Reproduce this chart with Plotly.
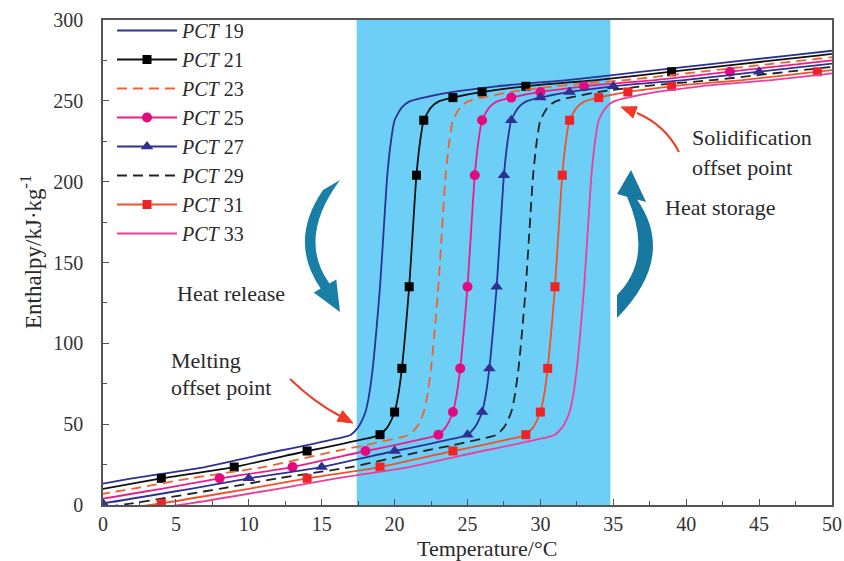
import plotly.graph_objects as go

# ---------------- data ----------------
# Enthalpy levels (kJ/kg) shared by every curve; each series gives the
# temperature (deg C) at which it reaches that level.
ENTHALPY = [-6, 1, 8.5, 10, 16.5, 23.5, 33.4, 37, 39, 41, 42, 43.5, 48, 52, 57.5,
            68, 84.5, 108, 135, 170, 204, 225, 238, 246, 249.5, 252, 255.5, 259,
            263, 268, 273, 278, 281]

T_PCT19 = [-14, -8, -3, -2, 2, 7, 12, 14, 15, 16, 16.5, 17, 17.5, 17.75, 18, 18.25,
           18.5, 18.75, 19, 19.25, 19.5, 19.75, 20, 20.5, 21, 22, 24, 27, 32, 37, 42, 47, 50]
T_PCT21 = [-12, -6, -1, 0, 4, 9, 14, 16, 17, 18, 18.5, 19, 19.5, 19.75, 20, 20.25,
           20.5, 20.75, 21, 21.25, 21.5, 21.75, 22, 22.5, 23, 24, 26, 29, 34, 39, 44, 49, 52]
T_PCT23 = [-10, -4, 1, 2, 6, 11, 16, 18, 19, 20, 20.5, 21, 21.5, 21.75, 22, 22.25,
           22.5, 22.75, 23, 23.25, 23.5, 23.75, 24, 24.5, 25, 26, 28, 31, 36, 41, 46, 51, 54]
T_PCT25 = [-8, -2, 3, 4, 8, 13, 18, 20, 21, 22, 22.5, 23, 23.5, 23.75, 24, 24.25,
           24.5, 24.75, 25, 25.25, 25.5, 25.75, 26, 26.5, 27, 28, 30, 33, 38, 43, 48, 53, 56]
T_PCT27 = [-6, 0, 5, 6, 10, 15, 20, 22, 23, 24, 24.5, 25, 25.5, 25.75, 26, 26.25,
           26.5, 26.75, 27, 27.25, 27.5, 27.75, 28, 28.5, 29, 30, 32, 35, 40, 45, 50, 55, 58]
T_PCT29 = [-4, 2, 7, 8, 12, 17, 22, 24, 25, 26, 26.5, 27, 27.5, 27.75, 28, 28.25,
           28.5, 28.75, 29, 29.25, 29.5, 29.75, 30, 30.5, 31, 32, 34, 37, 42, 47, 52, 57, 60]
T_PCT31 = [-2, 4, 9, 10, 14, 19, 24, 26, 27, 28, 28.5, 29, 29.5, 29.75, 30, 30.25,
           30.5, 30.75, 31, 31.25, 31.5, 31.75, 32, 32.5, 33, 34, 36, 39, 44, 49, 54, 59, 62]
T_PCT33 = [0, 6, 11, 12, 16, 21, 26, 28, 29, 30, 30.5, 31, 31.5, 31.75, 32, 32.25,
           32.5, 32.75, 33, 33.25, 33.5, 33.75, 34, 34.5, 35, 36, 38, 41, 46, 51, 56, 61, 64]

# indices of the points that carry a marker
MARKER_IDX = [1, 4, 5, 6, 11, 14, 16, 18, 20, 22, 25, 26, 27, 29]

SERIES_LABELS = ["19", "21", "23", "25", "27", "29", "31", "33"]
BAND_RANGE = [17.4, 34.8]          # phase-change temperature window
X_TICKS = [0, 5, 10, 15, 20, 25, 30, 35, 40, 45, 50]
Y_TICKS = [0, 50, 100, 150, 200, 250, 300]

# ---------------- styling ----------------
STYLES = [
    dict(color="#2D3192", dash="solid", symbol=None,          mcolor=None,      size=0),
    dict(color="#111111", dash="solid", symbol="square",      mcolor="#000000", size=9),
    dict(color="#F2622E", dash="10px,6px", symbol=None,       mcolor=None,      size=0),
    dict(color="#EC1C8C", dash="solid", symbol="circle",      mcolor="#E5097F", size=10),
    dict(color="#2E3192", dash="solid", symbol="triangle-up", mcolor="#2E3192", size=11),
    dict(color="#222222", dash="10px,6px", symbol=None,       mcolor=None,      size=0),
    dict(color="#F0522A", dash="solid", symbol="square",      mcolor="#EE2424", size=9),
    dict(color="#EE3E9C", dash="solid", symbol=None,          mcolor=None,      size=0),
]
TEMPS = [T_PCT19, T_PCT21, T_PCT23, T_PCT25, T_PCT27, T_PCT29, T_PCT31, T_PCT33]

FONT = "Liberation Serif, Times New Roman, serif"
W, H = 844, 561
ML, MR, MT, MB = 103, 12, 20, 56
PW, PH = W - ML - MR, H - MT - MB


def px(x):
    return (x - ML) / PW


def py(y):
    return (H - MB - y) / PH


def path(cmds, close=True):
    parts = []
    for c, pts in cmds:
        parts.append(c + " " + " ".join(f"{px(a):.4f},{py(b):.4f}" for a, b in pts))
    return " ".join(parts) + (" Z" if close else "")


fig = go.Figure()

for lab, T, st in zip(SERIES_LABELS, TEMPS, STYLES):
    fig.add_trace(go.Scatter(
        x=T, y=ENTHALPY, mode="lines",
        line=dict(color=st["color"], width=1.8, dash=st["dash"], shape="spline", smoothing=0.6),
        showlegend=False, legendgroup=lab, hoverinfo="skip"))
    if st["symbol"]:
        fig.add_trace(go.Scatter(
            x=[T[i] for i in MARKER_IDX], y=[ENTHALPY[i] for i in MARKER_IDX],
            mode="markers",
            marker=dict(symbol=st["symbol"], size=st["size"], color=st["mcolor"]),
            showlegend=False, legendgroup=lab))

for lab, st in zip(SERIES_LABELS, STYLES):
    fig.add_trace(go.Scatter(
        x=[None], y=[None],
        mode="lines+markers" if st["symbol"] else "lines",
        name=f"<i>PCT</i> {lab}", legendgroup=lab,
        line=dict(color=st["color"], width=1.8, dash=st["dash"]),
        marker=dict(symbol=st["symbol"] or "circle", size=st["size"] or 1,
                    color=st["mcolor"] or st["color"])))

shapes = [
    dict(type="rect", xref="x", yref="paper", x0=BAND_RANGE[0], x1=BAND_RANGE[1],
         y0=0, y1=1, fillcolor="#6DCFF6", line=dict(width=0), layer="below"),
    # heat release arrow (left, pointing down)
    dict(type="path", xref="paper", yref="paper", layer="above",
         path=path([("M", [(323, 190)]), ("Q", [(288, 241), (320.6, 288.5)]),
                    ("L", [(313.7, 292.5)]), ("L", [(340, 312)]), ("L", [(336.3, 279.5)]),
                    ("L", [(329.4, 283.5)]), ("Q", [(297, 238), (340, 180)])]),
         fillcolor="#1A7FA6", line=dict(width=0)),
    # heat storage arrow (right, pointing up)
    dict(type="path", xref="paper", yref="paper", layer="above",
         path=path([("M", [(631, 170)]), ("L", [(646, 202)]), ("L", [(637, 199.6)]),
                    ("Q", [(677, 257), (617, 318)]), ("L", [(617, 295)]),
                    ("Q", [(654, 258), (627, 196.8)]), ("L", [(617, 194)])]),
         fillcolor="#17799F", line=dict(width=0)),
    # red pointer arrows
    dict(type="path", xref="paper", yref="paper", layer="above",
         path=path([("M", [(290, 379)]), ("Q", [(315, 403), (340, 416)])], close=False),
         line=dict(color="#EE3A26", width=2)),
    dict(type="path", xref="paper", yref="paper", layer="above",
         path=path([("M", [(353, 423)]), ("L", [(337, 421.2)]), ("L", [(342.6, 410.7)])]),
         fillcolor="#EE3A26", line=dict(color="#EE3A26", width=1)),
    dict(type="path", xref="paper", yref="paper", layer="above",
         path=path([("M", [(679, 152)]), ("Q", [(665, 125), (637, 113)])], close=False),
         line=dict(color="#EE3A26", width=2)),
    dict(type="path", xref="paper", yref="paper", layer="above",
         path=path([("M", [(621, 107)]), ("L", [(637.2, 106.7)]), ("L", [(633, 117.9)])]),
         fillcolor="#EE3A26", line=dict(color="#EE3A26", width=1)),
]

TXT = "#2a2a2a"


def note(text, x, y, size=22, xanchor="left", angle=0):
    return dict(text=text, xref="paper", yref="paper", x=px(x), y=py(y),
                xanchor=xanchor, yanchor="middle", showarrow=False, textangle=angle,
                font=dict(family=FONT, size=size, color=TXT))


annotations = [
    note("Heat release", 175, 293),
    note("Melting", 169, 360),
    note("offset point", 169, 387),
    note("Solidification", 690, 137),
    note("offset point", 690, 167),
    note("Heat storage", 663, 208),
    note("Temperature/°C", 487, 548, size=22, xanchor="center"),
    note("Enthalpy/kJ·kg<sup>-1</sup>", 32, 252, size=23, xanchor="center", angle=-90),
]

axis_common = dict(showline=True, linecolor="#555555", linewidth=1.5, mirror=True,
                   ticks="inside", ticklen=6, tickwidth=1.3, tickcolor="#555555",
                   showgrid=False, zeroline=False, automargin=False,
                   tickfont=dict(family=FONT, size=20, color="#333333"))

fig.update_layout(
    width=W, height=H,
    margin=dict(l=ML, r=MR, t=MT, b=MB, autoexpand=False),
    paper_bgcolor="white", plot_bgcolor="white",
    xaxis=dict(range=[0, 50], tickvals=X_TICKS, ticklabelstandoff=0,
               minor=dict(ticks="inside", dtick=2.5, ticklen=4, tickcolor="#555555"),
               **axis_common),
    yaxis=dict(range=[0, 300], tickvals=Y_TICKS, ticklabelstandoff=14,
               minor=dict(ticks="inside", dtick=25, ticklen=4, tickcolor="#555555"),
               **axis_common),
    legend=dict(x=px(112), y=py(11), xanchor="left", yanchor="top",
                bgcolor="rgba(0,0,0,0)", font=dict(family=FONT, size=20, color=TXT),
                itemwidth=60, tracegroupgap=0),
    shapes=shapes, annotations=annotations,
    font=dict(family=FONT),
)

fig.write_html("out.html")
